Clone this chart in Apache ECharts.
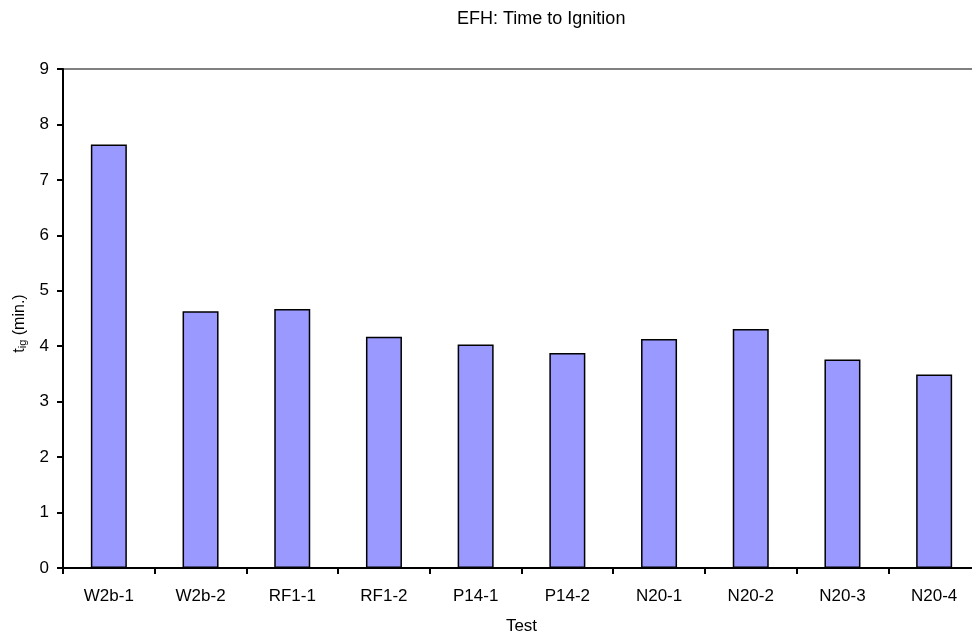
<!DOCTYPE html>
<html>
<head>
<meta charset="utf-8">
<script src="https://cdn.jsdelivr.net/npm/echarts@6/dist/echarts.min.js"></script>
<style>
html,body{margin:0;padding:0;background:#fff;overflow:hidden;width:972px;height:641px;}
#chart{width:981px;height:641px;}
</style>
</head>
<body>
<div id="chart"></div>
<script>
var categories = ['W2b-1','W2b-2','RF1-1','RF1-2','P14-1','P14-2','N20-1','N20-2','N20-3','N20-4'];
var ignitionTimes = [7.64, 4.63, 4.67, 4.17, 4.03, 3.88, 4.13, 4.31, 3.76, 3.49];
var yTicks = [0,1,2,3,4,5,6,7,8,9];

var chart = echarts.init(document.getElementById('chart'));
var font = 'Arial, "Liberation Sans", sans-serif';
var gridColors = yTicks.map(function(v){ return v === 9 ? '#808080' : 'rgba(0,0,0,0)'; });

chart.setOption({
  backgroundColor: '#ffffff',
  animation: false,
  title: {
    text: 'EFH: Time to Ignition',
    left: 452, top: 5,
    textStyle: {fontFamily: font, fontSize: 18, fontWeight: 'normal', color: '#000'}
  },
  grid: {left: 63, right: 1, top: 69, height: 499, containLabel: false},
  xAxis: {
    type: 'category',
    data: categories,
    name: 'Test',
    nameLocation: 'middle',
    nameGap: 50,
    nameTextStyle: {fontFamily: font, fontSize: 17, color: '#000'},
    axisLine: {lineStyle: {color: '#000', width: 2}},
    axisTick: {show: true, alignWithLabel: false, length: 6, lineStyle: {color: '#000', width: 2}},
    axisLabel: {fontFamily: font, fontSize: 17, color: '#000', margin: 20, interval: 0}
  },
  yAxis: {
    type: 'value',
    min: 0, max: 9, interval: 1,
    name: '{t|t}{s|ig}{t| (min.)}',
    nameLocation: 'middle',
    nameGap: 35,
    nameRotate: 90,
    nameTextStyle: {
      fontFamily: font, color: '#000', padding: [0, 10, 0, 0],
      rich: {
        t: {fontFamily: font, fontSize: 16, color: '#000'},
        s: {fontFamily: font, fontSize: 11, color: '#000', verticalAlign: 'bottom', padding: [6,0,0,0]}
      }
    },
    axisLine: {show: true, lineStyle: {color: '#000', width: 2}},
    axisTick: {show: true, length: 6, lineStyle: {color: '#000', width: 2}},
    axisLabel: {fontFamily: font, fontSize: 17, color: '#000', margin: 14},
    splitLine: {show: true, lineStyle: {color: gridColors, width: 2}}
  },
  series: [{
    type: 'bar',
    data: ignitionTimes,
    barWidth: 36,
    itemStyle: {color: '#9999FF', borderColor: '#000', borderWidth: 1.5}
  }]
});
</script>
</body>
</html>
